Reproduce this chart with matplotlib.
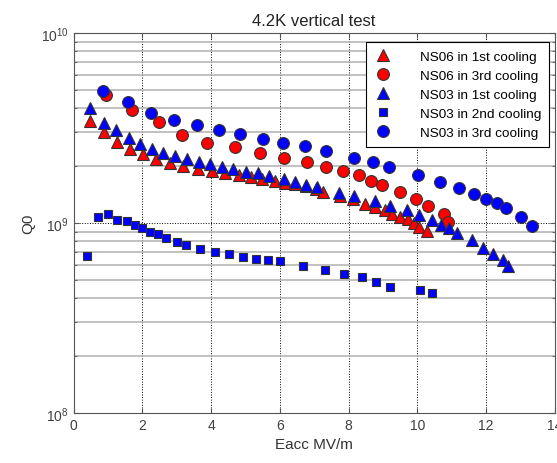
import matplotlib
matplotlib.use('Agg')
import matplotlib.pyplot as plt
import numpy as np
from matplotlib.ticker import LogLocator, FixedLocator

plt.rcParams['font.family'] = ['Liberation Sans', 'DejaVu Sans']

# NS06 in 1st cooling (red triangles)
ns06_1_x = [0.47, 0.90, 1.27, 1.64, 2.02, 2.41, 2.80, 3.19, 3.61, 4.02, 4.42, 4.81,
            5.16, 5.49, 5.85, 6.15, 6.45, 6.76, 7.04, 7.26, 7.75, 8.13, 8.48, 8.78,
            9.06, 9.27, 9.49, 9.73, 9.91, 10.05, 10.27]
ns06_1_q = [3.45, 3.00, 2.68, 2.45, 2.31, 2.16, 2.07, 1.99, 1.93, 1.87, 1.82, 1.78,
            1.74, 1.70, 1.67, 1.63, 1.60, 1.56, 1.51, 1.46, 1.38, 1.33, 1.26, 1.21,
            1.17, 1.11, 1.08, 1.05, 1.00, 0.953, 0.908]

# NS06 in 3rd cooling (red circles)
ns06_3_x = [0.94, 1.71, 2.48, 3.15, 3.88, 4.69, 5.42, 6.13, 6.79, 7.34, 7.85, 8.31,
            8.66, 8.98, 9.49, 9.97, 10.31, 10.78, 10.90]
ns06_3_q = [4.72, 3.92, 3.41, 2.90, 2.64, 2.50, 2.33, 2.20, 2.09, 1.97, 1.87, 1.79,
            1.67, 1.59, 1.45, 1.34, 1.23, 1.11, 1.01]

# NS03 in 1st cooling (blue triangles)
ns03_1_x = [0.47, 0.89, 1.25, 1.60, 1.93, 2.28, 2.61, 2.94, 3.29, 3.64, 3.98, 4.32,
            4.65, 5.01, 5.37, 5.69, 6.12, 6.45, 6.76, 7.07, 7.71, 8.17, 8.76, 9.22,
            9.69, 10.05, 10.42, 10.68, 10.92, 11.17, 11.60, 11.91, 12.20, 12.48, 12.64]
ns03_1_q = [4.02, 3.36, 3.10, 2.80, 2.61, 2.46, 2.34, 2.24, 2.16, 2.09, 2.03, 1.98,
            1.92, 1.86, 1.82, 1.76, 1.70, 1.64, 1.58, 1.54, 1.43, 1.38, 1.30, 1.23,
            1.17, 1.10, 1.03, 0.980, 0.944, 0.885, 0.811, 0.739, 0.687, 0.634, 0.592]

# NS03 in 2nd cooling (blue squares)
ns03_2_x = [0.38, 0.71, 1.00, 1.26, 1.55, 1.78, 2.00, 2.22, 2.47, 2.69, 3.02, 3.27,
            3.69, 4.11, 4.53, 4.92, 5.31, 5.67, 6.02, 6.69, 7.31, 7.86, 8.38, 8.80,
            9.21, 10.09, 10.42]
ns03_2_q = [0.668, 1.07, 1.11, 1.04, 1.02, 0.976, 0.937, 0.897, 0.875, 0.837, 0.798, 0.764,
            0.733, 0.704, 0.687, 0.665, 0.649, 0.641, 0.629, 0.592, 0.568, 0.539, 0.516, 0.491,
            0.462, 0.446, 0.430]

# NS03 in 3rd cooling (blue circles)
ns03_3_x = [0.87, 1.58, 2.24, 2.92, 3.60, 4.22, 4.84, 5.50, 6.09, 6.74, 7.34, 8.15,
            8.70, 9.18, 10.02, 10.66, 11.21, 11.64, 12.00, 12.31, 12.58, 13.02, 13.35]
ns03_3_q = [4.97, 4.32, 3.78, 3.50, 3.28, 3.08, 2.93, 2.76, 2.63, 2.53, 2.39, 2.20,
            2.09, 1.96, 1.78, 1.65, 1.52, 1.42, 1.34, 1.27, 1.20, 1.08, 0.968]

x_ticks = [0, 2, 4, 6, 8, 10, 12, 14]

fig = plt.figure(figsize=(5.57, 4.64), dpi=100)
ax = fig.add_axes([0.132, 0.108, 0.864, 0.819])

ec = '#333333'
ax.plot(ns06_1_x, np.array(ns06_1_q) * 1e9, '^', color='red', mec=ec, mew=0.8, ms=9,
        label='NS06 in 1st cooling')
ax.plot(ns06_3_x, np.array(ns06_3_q) * 1e9, 'o', color='red', mec=ec, mew=0.8, ms=8.5,
        label='NS06 in 3rd cooling')
ax.plot(ns03_1_x, np.array(ns03_1_q) * 1e9, '^', color='blue', mec=ec, mew=0.8, ms=9,
        label='NS03 in 1st cooling')
ax.plot(ns03_2_x, np.array(ns03_2_q) * 1e9, 's', color='blue', mec=ec, mew=0.8, ms=6,
        label='NS03 in 2nd cooling')
ax.plot(ns03_3_x, np.array(ns03_3_q) * 1e9, 'o', color='blue', mec=ec, mew=0.8, ms=8.5,
        label='NS03 in 3rd cooling')

ax.set_yscale('log')
ax.set_xlim(0, 14)
ax.set_ylim(1e8, 1e10)
ax.set_xticks(x_ticks)
ax.yaxis.set_major_locator(FixedLocator([1e8, 1e9, 1e10]))
ax.yaxis.set_minor_locator(LogLocator(base=10, subs=np.arange(2, 10)))

ax.grid(True, which='major', axis='x', color='black', linestyle=':', linewidth=0.7)
ax.grid(True, which='major', axis='y', color='black', linestyle=':', linewidth=0.7)
ax.grid(True, which='minor', axis='y', color='#b0b0b0', linestyle='-', linewidth=1.1)
ax.set_axisbelow(True)

ax.tick_params(which='both', direction='in', colors='#555555', labelcolor='#404040',
               labelsize=10, top=True, right=True)
ax.tick_params(which='minor', length=2)
for s in ax.spines.values():
    s.set_color('#555555')

ax.set_xlabel('Eacc MV/m', fontsize=11, color='#333333')
ax.set_ylabel('Q0', fontsize=11, color='#333333')
ax.set_title('4.2K vertical test', fontsize=12, color='#222222')

leg = ax.legend(loc='upper right', bbox_to_anchor=(0.988, 0.976), borderaxespad=0,
                fontsize=9.7, fancybox=False, edgecolor='black', framealpha=1,
                handlelength=1.4, handletextpad=2.0, borderpad=0.6, labelspacing=0.5)
leg.get_frame().set_linewidth(0.8)

fig.savefig('out.png', dpi=100)
